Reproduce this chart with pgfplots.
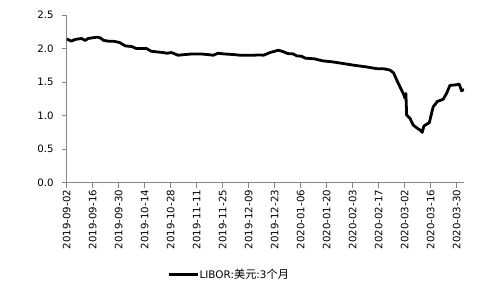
\documentclass[border=0pt]{standalone}
\usepackage{pgfplots}
\pgfplotsset{compat=1.18}
\usepackage{fontspec}
\setmainfont{DejaVu Sans}
\newfontfamily\cjk{Noto Sans CJK SC}[Scale=1.08]
\definecolor{axgray}{RGB}{134,134,134}
\begin{document}
\begin{tikzpicture}
\useasboundingbox (0,0) rectangle (480bp,288bp);
\begin{axis}[
  at={(66.7bp,105.3bp)}, anchor=south west,
  scale only axis, width=397.3bp, height=167.7bp,
  xmin=0, xmax=214, ymin=0, ymax=2.5,
  axis x line*=bottom, axis y line*=left,
  axis line style={axgray, line width=0.8bp, -},
  xtick={0,14,...,210},
  xticklabels={2019-09-02,2019-09-16,2019-09-30,2019-10-14,2019-10-28,2019-11-11,2019-11-25,2019-12-09,2019-12-23,2020-01-06,2020-01-20,2020-02-03,2020-02-17,2020-03-02,2020-03-16,2020-03-30},
  xticklabel style={rotate=90, anchor=east, font=\fontsize{10.2bp}{12bp}\selectfont, inner xsep=2bp},
  ytick={0,0.5,...,2.5},
  yticklabel style={font=\fontsize{10.2bp}{12bp}\selectfont, inner xsep=8bp},
  /pgf/number format/assume math mode=true,
  yticklabel={\pgfmathprintnumber[fixed,fixed zerofill,precision=1]{\tick}},
  tick align=outside, major tick length=5bp,
  tick style={axgray, line width=0.8bp},
  legend style={draw=none, fill=none, at={(0.254,-0.546)}, anchor=west, inner sep=0pt,
    font=\fontsize{10.4bp}{12bp}\selectfont, nodes={inner xsep=0.6bp}},
  legend cell align=left,
  legend image code/.code={\draw[#1] (0bp,0bp) -- (28.4bp,0bp);},
]
\addplot[black, line width=2.8bp, line join=round] coordinates {
(0,2.14) (1,2.13) (2.5,2.11) (4,2.13) (5.5,2.14) (8,2.15) (10,2.12) (11.5,2.15)
(14,2.16) (16.5,2.17) (18,2.16) (20,2.12) (22.5,2.11) (25,2.11) (28.5,2.09)
(31.5,2.04) (35,2.03) (37.5,2.00) (39.5,2.00) (43,2.00) (45.5,1.96) (48.5,1.95)
(52,1.94) (54,1.93) (56.5,1.94) (60,1.90) (63.5,1.91) (68,1.92) (72,1.92)
(76,1.91) (79,1.90) (81.5,1.93) (84.5,1.92) (90,1.91) (93.5,1.90) (100.5,1.90)
(104,1.905) (106,1.90) (109.5,1.94) (114,1.975) (116.5,1.955) (119,1.925)
(122,1.92) (124,1.89) (126.5,1.885) (128.5,1.856) (133.5,1.846) (138,1.816)
(143.5,1.80) (149,1.776) (155,1.75) (161.5,1.726) (167,1.70) (170.5,1.70)
(174,1.68) (176,1.64) (178.6,1.48) (181.3,1.33) (182.2,1.26) (182.7,1.33)
(183.1,1.01) (184.9,0.96) (186.6,0.86) (189.4,0.80) (190.3,0.787) (191.5,0.75)
(192.4,0.846) (195.3,0.895) (197.4,1.13) (199.6,1.21) (202.8,1.245) (204.6,1.33)
(206.4,1.45) (210,1.46) (211.4,1.47) (212.7,1.37) (214,1.39)
};
\addlegendentry{LIBOR:{\cjk 美元}:3{\cjk 个月}}
\end{axis}
\end{tikzpicture}
\end{document}
